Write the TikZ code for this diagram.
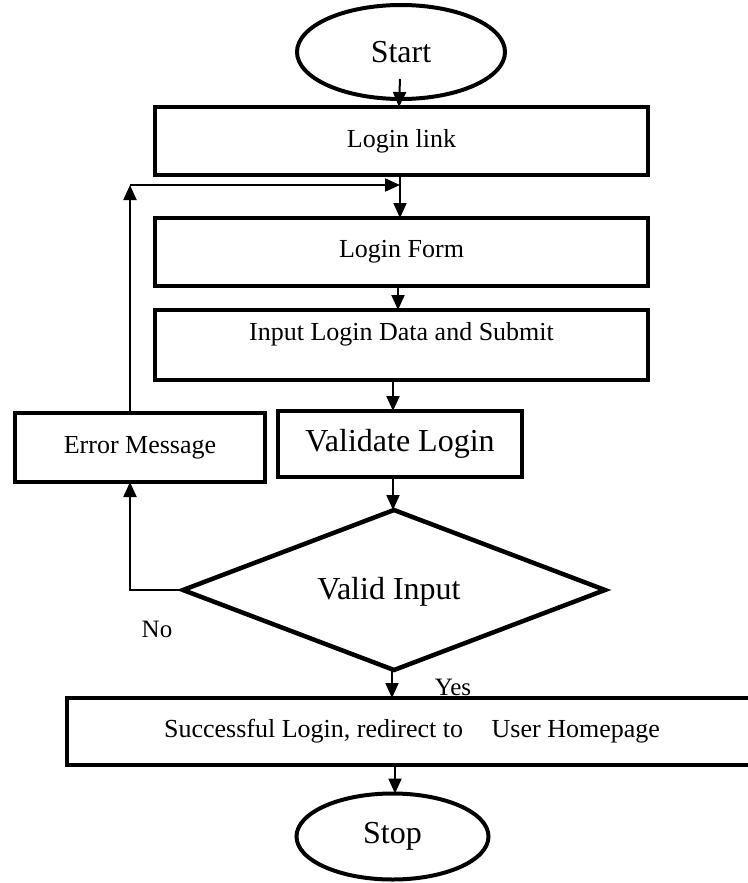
\documentclass[tikz,border=0pt]{standalone}
\usepackage{fontspec}
\setmainfont{Liberation Serif}
\usetikzlibrary{shapes.geometric,arrows.meta,calc}
\begin{document}
\begin{tikzpicture}[x=1pt,y=-1pt,
  box/.style={draw,line width=4.5pt,inner sep=0pt,outer sep=0pt,minimum width=#1},
  oval/.style={draw,ellipse,line width=4pt,inner sep=0pt,outer sep=0pt},
  small/.style={font=\fontsize{26}{30}\selectfont},
  large/.style={font=\fontsize{32}{36}\selectfont},
  lbl/.style={font=\fontsize{25}{29}\selectfont,inner sep=0pt},
  arr/.style={line width=2pt,-{Triangle[length=15pt,width=13pt]}},
  ln/.style={line width=2pt}]
\useasboundingbox (0,0) rectangle (747,883);
% nodes
\node[oval,large,minimum width=208pt,minimum height=94pt] (start) at (401,52) {Start};
\node[box=493pt,minimum height=68pt,small] (link) at (401.5,141) {Login link};
\node[box=493pt,minimum height=68pt,small] (form) at (401.5,252) {Login Form};
\node[box=493pt,minimum height=70pt] (input) at (401.5,345) {};
\node[small,inner sep=0pt] (inputtxt) at (401.5,334) {Input Login Data and Submit};
\node[box=244pt,minimum height=66pt,large] (valid) at (400,444) {Validate Login};
\node[box=250pt,minimum height=69pt,small] (err) at (140,447.5) {Error Message};
\node[draw,diamond,line width=4.5pt,inner sep=0pt,outer sep=0pt,minimum width=422pt,minimum height=160pt] (dec) at (394,590) {};
\node[large,inner sep=0pt] (dectxt) at (389,592) {Valid Input};
\node[box=685pt,minimum height=67pt] (succ) at (409.5,731.5) {};
\node[small,inner sep=0pt] (succtxt) at (412,731) {Successful Login, redirect to\hspace{1.1em}User Homepage};
\node[oval,large,minimum width=192pt,minimum height=86pt] (stop) at (392.5,836.5) {Stop};
\node[lbl] (no) at (157,629) {No};
\node[lbl] (yes) at (453,687) {Yes};
% coordinates
\coordinate (loopc) at (130,185);
\coordinate (loopend) at (400,185);
% connectors
\draw[arr] ([xshift=-1pt,yshift=20pt]start.south) -- ([xshift=-2.5pt]link.north);
\draw[arr] ([xshift=-1.5pt]link.south) -- ([xshift=-1.5pt]form.north);
\draw[arr] (err.north -| loopc) -- (loopc);
\draw[arr] (loopc) -- (loopend);
\draw[arr] ([xshift=-3.5pt]form.south) -- ([xshift=-3.5pt]input.north);
\draw[arr] ([xshift=-8.5pt]input.south) -- ([xshift=-7pt]valid.north);
\draw[arr] ([xshift=-7pt]valid.south) -- ([xshift=-1pt]dec.north);
\draw[arr] (dec.west) -- (dec.west -| loopc) -- (err.south -| loopc);
\draw[arr] ([xshift=-2pt]dec.south) -- (succ.north -| 392,0);
\draw[arr] (succ.south -| 395,0) -- (stop.north -| 395,0);
\end{tikzpicture}
\end{document}
